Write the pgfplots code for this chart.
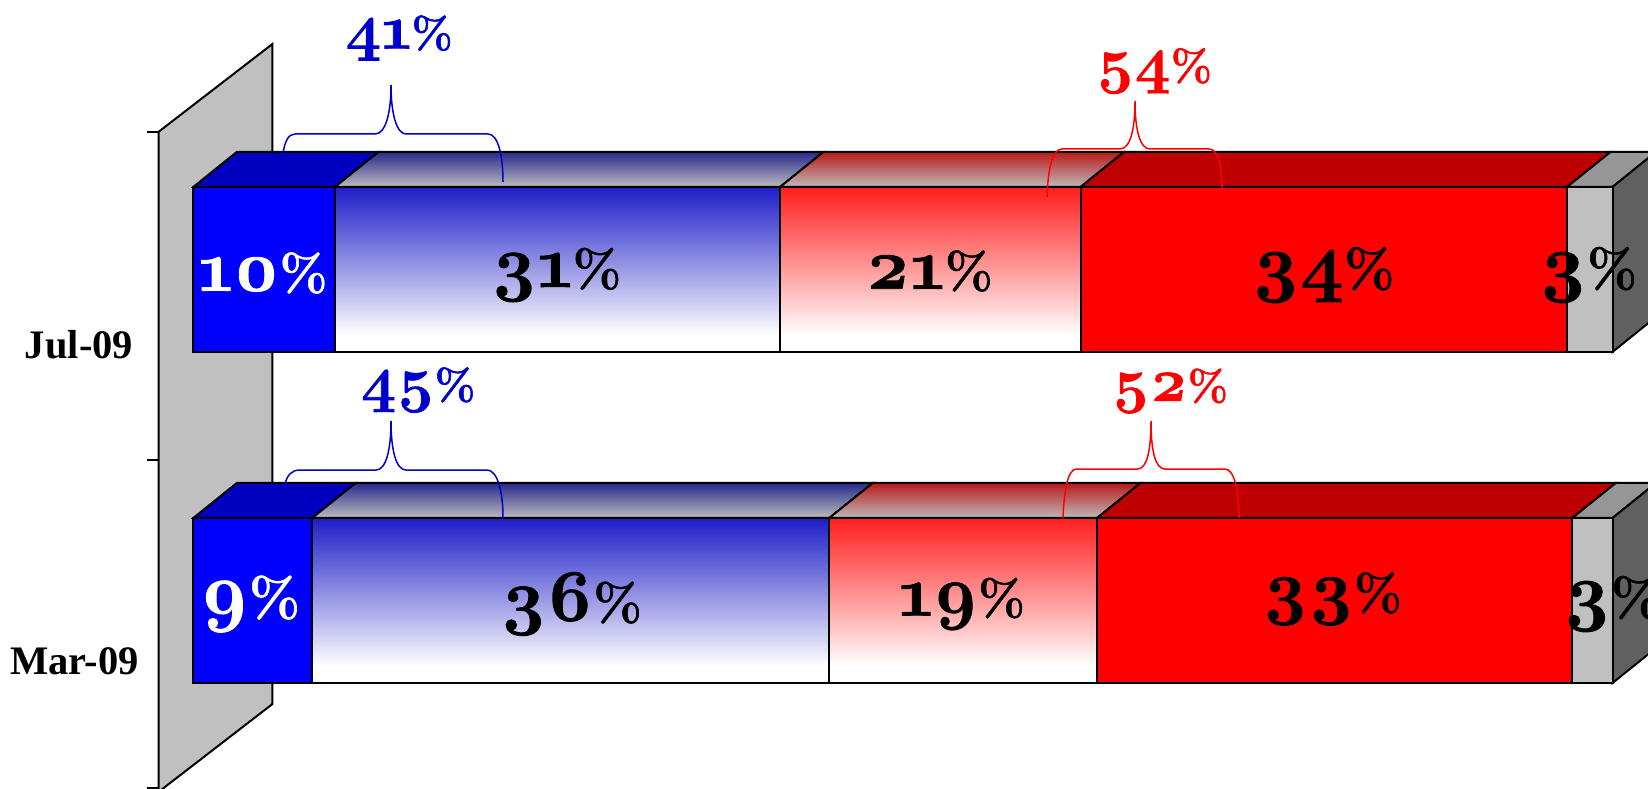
\documentclass[border=0pt]{standalone}
\usepackage{fontspec}
\setmainfont{Liberation Serif}
\newfontfamily\pct[Numbers=OldStyle,BoldFeatures={FakeBold=1.2}]{Latin Modern Roman}
\usepackage{pgfplots}
\pgfplotsset{compat=1.18}
\usepackage{pgfplotstable}

\definecolor{wallgray}{RGB}{192,192,192}
\definecolor{sidegray}{RGB}{96,96,96}
\definecolor{topgray}{RGB}{150,150,150}
\definecolor{topblue}{RGB}{0,0,192}
\definecolor{topred}{RGB}{190,0,0}
\definecolor{labelblue}{RGB}{0,0,204}
\definecolor{fadeblue}{RGB}{30,30,200}
\definecolor{fadered}{RGB}{255,30,30}

% the bar fills fade out to white a little above the bottom edge
\pgfdeclareverticalshading{bluefade}{100bp}{color(0bp)=(white); color(30bp)=(white); color(75bp)=(fadeblue); color(100bp)=(fadeblue)}
\pgfdeclareverticalshading{redfade}{100bp}{color(0bp)=(white); color(30bp)=(white); color(75bp)=(fadered); color(100bp)=(fadered)}

% percent shares as measured from the bar widths; y is the bar centre
\pgfplotstableread{
y      s1    s2    s3    s4    s5
1.0808 9.98  31.36 21.18 34.28 3.20
}\sharesJul
\pgfplotstableread{
y      s1    s2    s3    s4    s5
0.0717 8.37  36.44 18.87 33.49 2.83
}\sharesMar

\pgfplotsset{frame/.style={
    scale only axis,
    width=1489.5pt, height=788pt,
    at={(158.5pt,0pt)}, anchor=south west,
    xmin=-2.46, xmax=102.5,
    ymin=-0.5, ymax=1.902,
    clip=false},
  row/.style={frame, hide axis, xbar stacked, bar width=165pt, bar shift=0pt}}

\newcommand{\front}[1]{%
\addplot[draw=black,line width=2pt,fill={rgb,255:red,0;green,0;blue,255}] table[x=s1,y=y] {#1};
\addplot[draw=black,line width=2pt,shading=bluefade] table[x=s2,y=y] {#1};
\addplot[draw=black,line width=2pt,shading=redfade] table[x=s3,y=y] {#1};
\addplot[draw=black,line width=2pt,fill={rgb,255:red,255;green,0;blue,0}] table[x=s4,y=y] {#1};
\addplot[draw=black,line width=2pt,fill=wallgray] table[x=s5,y=y] {#1};}

\newcommand{\lab}[5][black]{%
  \pgfmathsetmacro{\dsize}{1.25*#4}\pgfmathsetmacro{\psize}{0.88*#4}%
  \node[text=#1,inner sep=0pt] at (#2,#3)
  {\pct\bfseries\fontsize{\dsize}{\dsize}\selectfont #5\fontsize{\psize}{\psize}\selectfont\%};}

\begin{document}
\begin{tikzpicture}
\useasboundingbox (0,0) rectangle (1648pt,788pt);

% wall, ticks and the top and side faces
\begin{axis}[frame,
    axis line style={draw=none},
    xtick=\empty,
    ytick={-0.5,0.5,1.5}, yticklabels={},
    ytick pos=left, tick align=outside,
    major tick length=12pt,
    tick style={black,line width=2pt}]
\addplot[draw=black,line width=2pt,fill=wallgray] coordinates {(-2.46,-0.512) (-2.46,1.5) (5.57,1.768) (5.57,-0.244)} --cycle;

% Jul-09
\addplot[draw=black,line width=2pt,fill=topblue] coordinates {(0,1.3323) (9.98,1.3323) (13.045,1.439) (3.065,1.439)} --cycle;
\addplot[draw=black,line width=2pt,top color={rgb,255:red,40;green,40;blue,140},bottom color={rgb,255:red,188;green,188;blue,190}] coordinates {(9.98,1.3323) (41.34,1.3323) (44.405,1.439) (13.045,1.439)} --cycle;
\addplot[draw=black,line width=2pt,top color={rgb,255:red,185;green,25;blue,25},bottom color={rgb,255:red,190;green,185;blue,185}] coordinates {(41.34,1.3323) (62.52,1.3323) (65.585,1.439) (44.405,1.439)} --cycle;
\addplot[draw=black,line width=2pt,fill=topred] coordinates {(62.52,1.3323) (96.8,1.3323) (99.865,1.439) (65.585,1.439)} --cycle;
\addplot[draw=black,line width=2pt,fill=topgray] coordinates {(96.8,1.3323) (100,1.3323) (103.065,1.439) (99.865,1.439)} --cycle;
\addplot[draw=black,line width=2pt,fill=sidegray] coordinates {(100,1.3323) (100,0.8293) (103.065,0.936) (103.065,1.439)} --cycle;

% Mar-09
\addplot[draw=black,line width=2pt,fill=topblue] coordinates {(0,0.3232) (8.37,0.3232) (11.435,0.4299) (3.065,0.4299)} --cycle;
\addplot[draw=black,line width=2pt,top color={rgb,255:red,40;green,40;blue,140},bottom color={rgb,255:red,188;green,188;blue,190}] coordinates {(8.37,0.3232) (44.81,0.3232) (47.875,0.4299) (11.435,0.4299)} --cycle;
\addplot[draw=black,line width=2pt,top color={rgb,255:red,185;green,25;blue,25},bottom color={rgb,255:red,190;green,185;blue,185}] coordinates {(44.81,0.3232) (63.68,0.3232) (66.745,0.4299) (47.875,0.4299)} --cycle;
\addplot[draw=black,line width=2pt,fill=topred] coordinates {(63.68,0.3232) (97.17,0.3232) (100.235,0.4299) (66.745,0.4299)} --cycle;
\addplot[draw=black,line width=2pt,fill=topgray] coordinates {(97.17,0.3232) (100,0.3232) (103.065,0.4299) (100.235,0.4299)} --cycle;
\addplot[draw=black,line width=2pt,fill=sidegray] coordinates {(100,0.3232) (100,-0.1799) (103.065,-0.0732) (103.065,0.4299)} --cycle;
\end{axis}

% front faces, one axis per row so that each bar has its own gradient
\begin{axis}[row]
\front{\sharesJul}
\end{axis}
\begin{axis}[row]
\front{\sharesMar}
\end{axis}

% texts and braces, in reference pixels from the top left
\begin{scope}[x=1pt,y=-1pt,shift={(0pt,788pt)}]
\node[inner sep=0pt] at (79,345) {\bfseries\fontsize{40.5}{41}\selectfont Jul-09};
\node[inner sep=0pt] at (74.5,661) {\bfseries\fontsize{40.5}{41}\selectfont Mar-09};

\lab[white]{263}{273}{58}{10}
\lab{556}{275}{59}{31}
\lab{929}{271}{58}{21}
\lab{1323}{275}{61}{34}
\lab{1588}{275}{61}{3}
\lab[white]{250}{604}{62}{9}
\lab{571}{604}{59}{36}
\lab{962}{604}{57}{19}
\lab{1332}{599}{58}{33}
\lab{1612}{604}{61}{3}
\lab[labelblue]{399}{38}{50}{41}
\lab[red]{1154}{71}{50}{54}
\lab[labelblue]{418}{390}{49.5}{45}
\lab[red]{1170}{391}{49}{52}

\draw[labelblue,line width=1.5pt] (283,153) .. controls (285,142) and (288,134) .. (295,134) -- (375,134) .. controls (385,134) and (391,115) .. (391,85) .. controls (391,115) and (397,134) .. (406,134) -- (488,134) .. controls (498,134) and (503,155) .. (503,182);
\draw[red,line width=1.5pt] (1047,197) .. controls (1048,170) and (1052,149) .. (1062,149) -- (1120,149) .. controls (1130,149) and (1135,130) .. (1135,101) .. controls (1135,130) and (1140,149) .. (1150,149) -- (1209,149) .. controls (1218,149) and (1222,165) .. (1222,189);
\draw[labelblue,line width=1.5pt] (285,484) .. controls (287,476) and (291,470) .. (300,470) -- (376,470) .. controls (386,470) and (391,450) .. (391,421) .. controls (391,450) and (396,470) .. (406,470) -- (487,470) .. controls (497,470) and (503,490) .. (503,518);
\draw[red,line width=1.5pt] (1063,518) .. controls (1064,490) and (1068,469) .. (1076.4,469) -- (1137.6,469) .. controls (1147,469) and (1151,450) .. (1151,421) .. controls (1151,450) and (1155,469) .. (1165,469) -- (1225,469) .. controls (1234,469) and (1239,490) .. (1239,518);
\end{scope}
\end{tikzpicture}
\end{document}
